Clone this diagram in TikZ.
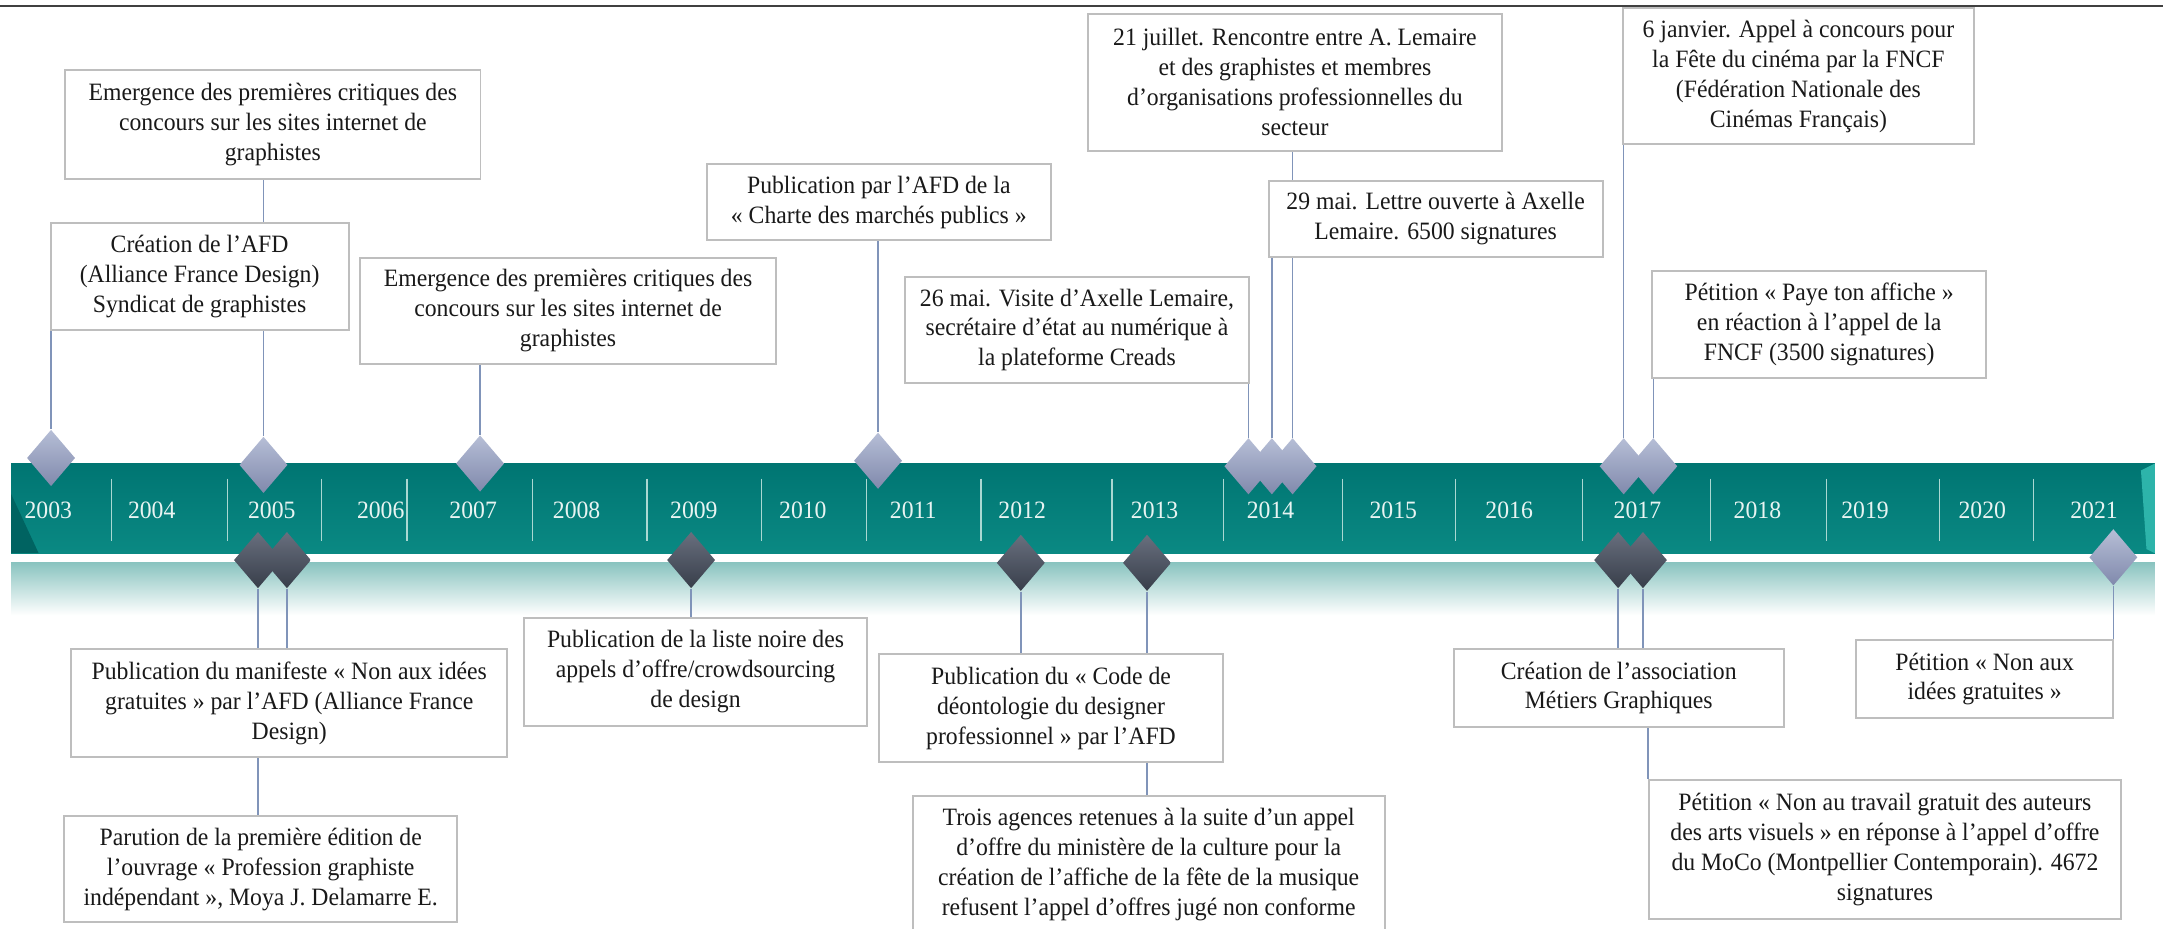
\documentclass[tikz,border=0pt]{standalone}
\usepackage{fontspec}
\setmainfont[FakeStretch=0.95]{Liberation Serif}
\usetikzlibrary{shapes.geometric,backgrounds}

\definecolor{bandteal}{RGB}{10,137,131}
\definecolor{banddark}{RGB}{0,117,114}
\definecolor{bandlight}{RGB}{45,180,170}
\definecolor{glowteal}{RGB}{138,196,192}
\definecolor{sepline}{RGB}{170,216,210}
\definecolor{yeartxt}{RGB}{232,244,242}
\definecolor{boxline}{RGB}{190,190,190}
\definecolor{linkblue}{RGB}{128,148,185}
\definecolor{gemhi}{RGB}{182,190,214}
\definecolor{gemlo}{RGB}{128,137,172}
\definecolor{darkhi}{RGB}{104,111,126}
\definecolor{darklo}{RGB}{56,62,74}

\tikzset{
  evbox/.style={draw=boxline, line width=0.8pt, fill=white, align=center, inner sep=2pt,
    anchor=north west, text=black!90, font=\fontsize{10.3}{12.35}\selectfont},
  boxsize/.style 2 args={minimum width=#1*0.02cm, minimum height=#2*0.02cm},
  gem/.style={diamond, minimum width=0.7cm, minimum height=0.82cm, inner sep=0pt,
    top color=gemhi, bottom color=gemlo},
  darkgem/.style={gem, top color=darkhi, bottom color=darklo},
  link/.style={linkblue, line width=0.6pt},
  yearlbl/.style={text=yeartxt, font=\fontsize{10.3}{12}\selectfont},
  yearsep/.style={sepline, line width=0.6pt}
}

\begin{document}
\begin{tikzpicture}[x=0.02cm, y=-0.02cm]
  \useasboundingbox (0,0) rectangle (1568,673);

  % Title rule
  \draw[line width=0.6pt, black!75] (0,4.3) -- (1568,4.3);

  % Band and its reflection
  \begin{scope}[on background layer]
    \shade[top color=glowteal, bottom color=white] (8,408) rectangle (1562,446);
    \shade[top color=banddark, bottom color=bandteal] (8,336) rectangle (1562,401);
    \fill[banddark!85!black] (8,358) -- (28,401) -- (8,401) -- cycle;
    \fill[bandlight] (1552,341) -- (1562,336) -- (1562,401) -- (1556,398) -- cycle;
  \end{scope}

  % Years
  \foreach \x in {81,165,233,295,386,469,552,628,711,806,887,973,1055,1147,1240,1324,1406,1474}
    \draw[yearsep] (\x,347) -- (\x,392);
  \foreach \yr/\x in {2003/35,2004/110,2005/197,2006/276,2007/343,2008/418,2009/503,
      2010/582,2011/662,2012/741,2013/837,2014/921,2015/1010,2016/1094,2017/1187,
      2018/1274,2019/1352,2020/1437,2021/1518}
    \node[yearlbl] (yr\yr) at (\x,370) {\yr};

  % Markers above the band
  \node[gem] (up03) at (37,332) {};
  \node[gem] (up05) at (191,337) {};
  \node[gem] (up07) at (348,336) {};
  \node[gem] (up11) at (636.5,334) {};
  \node[gem] (up14a) at (905,338) {};
  \node[gem] (up14b) at (922,338) {};
  \node[gem] (up14c) at (937,338) {};
  \node[gem] (up17a) at (1177,338) {};
  \node[gem] (up17b) at (1198.5,338) {};

  % Markers below the band
  \node[darkgem] (lo05a) at (187,406) {};
  \node[darkgem] (lo05b) at (208,406) {};
  \node[darkgem] (lo09) at (501,406) {};
  \node[darkgem] (lo12) at (740,408) {};
  \node[darkgem] (lo13) at (831.5,408) {};
  \node[darkgem] (lo17a) at (1173,406) {};
  \node[darkgem] (lo17b) at (1191,406) {};
  \node[gem] (lo21) at (1532,404) {};

  % Events above
  \node[evbox, boxsize={301}{79}] (crit1) at (46.6,50)
    {Emergence des premières critiques des\\concours sur les sites internet de\\graphistes};
  \node[evbox, boxsize={216}{78}] (afd) at (36,160.7)
    {Création de l’AFD\\(Alliance France Design)\\Syndicat de graphistes};
  \node[evbox, boxsize={301}{77}] (crit2) at (260.6,186)
    {Emergence des premières critiques des\\concours sur les sites internet de\\graphistes};
  \node[evbox, boxsize={249.5}{55.5}] (charte) at (511.6,118)
    {Publication par l’AFD de la\\« Charte des marchés publics »};
  \node[evbox, boxsize={250}{77}] (creads) at (655,200)
    {26 mai. Visite d’Axelle Lemaire,\\secrétaire d’état au numérique à\\la plateforme Creads};
  \node[evbox, boxsize={300}{99.5}] (rencontre) at (788,9.2)
    {21 juillet. Rencontre entre A. Lemaire\\et des graphistes et membres\\d’organisations professionnelles du\\secteur};
  \node[evbox, boxsize={242}{55}] (lettre) at (919,130.5)
    {29 mai. Lettre ouverte à Axelle\\Lemaire. 6500 signatures};
  \node[evbox, boxsize={254}{99}] (fncf) at (1176,5)
    {6 janvier. Appel à concours pour\\la Fête du cinéma par la FNCF\\(Fédération Nationale des\\Cinémas Français)};
  \node[evbox, boxsize={242}{77}] (affiche) at (1197,196)
    {Pétition « Paye ton affiche »\\en réaction à l’appel de la\\FNCF (3500 signatures)};

  % Events below
  \node[evbox, boxsize={316}{78}] (manifeste) at (51,470)
    {Publication du manifeste « Non aux idées\\gratuites » par l’AFD (Alliance France\\Design)};
  \node[evbox, boxsize={285}{77}] (ouvrage) at (45.8,591)
    {Parution de la première édition de\\l’ouvrage « Profession graphiste\\indépendant », Moya J. Delamarre E.};
  \node[evbox, boxsize={249}{78.6}] (listenoire) at (379,447)
    {Publication de la liste noire des\\appels d’offre/crowdsourcing\\de design};
  \node[evbox, boxsize={249}{78.5}] (code) at (636.7,473.5)
    {Publication du « Code de\\déontologie du designer\\professionnel » par l’AFD};
  \node[evbox, boxsize={342}{100}] (agences) at (661,576)
    {Trois agences retenues à la suite d’un appel\\d’offre du ministère de la culture pour la\\création de l’affiche de la fête de la musique\\refusent l’appel d’offres jugé non conforme};
  \node[evbox, boxsize={239.5}{56}] (metiers) at (1053,470)
    {Création de l’association\\Métiers Graphiques};
  \node[evbox, boxsize={342}{100.6}] (moco) at (1194.7,565)
    {Pétition « Non au travail gratuit des auteurs\\des arts visuels » en réponse à l’appel d'offre\\du MoCo (Montpellier Contemporain). 4672\\signatures};
  \node[evbox, boxsize={186}{57}] (idees) at (1345,463)
    {Pétition « Non aux\\idées gratuites »};

  % Links
  \begin{scope}[on background layer]
    \draw[link] (crit1.south -| up05) -- (up05.north);
    \draw[link] (afd.south -| up03) -- (up03.north);
    \draw[link] (crit2.south -| up07) -- (up07.north);
    \draw[link] (charte.south -| up11) -- (up11.north);
    \draw[link] (creads.south -| up14a) -- (up14a.north);
    \draw[link] (lettre.south -| up14b) -- (up14b.north);
    \draw[link] (rencontre.south -| up14c) -- (up14c.north);
    \draw[link] (fncf.south -| up17a) -- (up17a.north);
    \draw[link] (affiche.south -| up17b) -- (up17b.north);

    \draw[link] (lo05a.south) -- (lo05a |- manifeste.north);
    \draw[link] (lo05b.south) -- (lo05b |- manifeste.north);
    \draw[link] (manifeste.south -| lo05a) -- (ouvrage.north -| lo05a);
    \draw[link] (lo09.south) -- (lo09 |- listenoire.north);
    \draw[link] (lo12.south) -- (lo12 |- code.north);
    \draw[link] (lo13.south) -- (lo13 |- agences.north);
    \draw[link] (lo17a.south) -- (lo17a |- metiers.north);
    \draw[link] (lo17b.south) -- (lo17b |- metiers.north);
    \draw[link] (moco.north west |- metiers.south) -- (moco.north west);
    \draw[link] (lo21.south) -- (lo21 |- idees.north);
  \end{scope}
\end{tikzpicture}
\end{document}
